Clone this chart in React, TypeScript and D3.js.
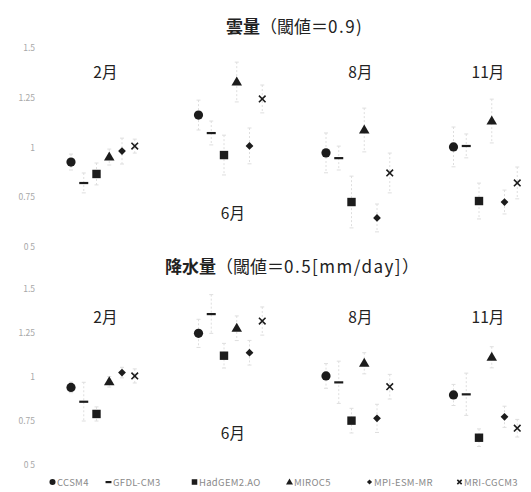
import React from "react";
import * as d3 from "d3";

const months = ["2月", "6月", "8月", "11月"];
const models = ["CCSM4", "GFDL-CM3", "HadGEM2.AO", "MIROC5", "MPI-ESM-MR", "MRI-CGCM3"];
const symbols = ["circle", "dash", "square", "triangle", "diamond", "cross"];
const yTicks = [0.5, 0.75, 1, 1.25, 1.5];
const yTickLabels = ["0 5", "0.75", "1", "1.25", "1.5"];

// 雲量 ratios per model (2月, 6月, 8月, 11月)
const cloudCCSM4 = [0.927, 1.163, 0.973, 1.003];
const cloudGFDL = [0.822, 1.073, 0.947, 1.008];
const cloudHadGEM = [0.867, 0.962, 0.726, 0.731];
const cloudMIROC = [0.952, 1.329, 1.088, 1.133];
const cloudMPI = [0.982, 1.008, 0.646, 0.726];
const cloudMRI = [1.007, 1.244, 0.872, 0.822];
const cloudErrCCSM4 = [0.04, 0.075, 0.1, 0.1];
const cloudErrGFDL = [0.05, 0.06, 0.06, 0.06];
const cloudErrHadGEM = [0.055, 0.1, 0.13, 0.09];
const cloudErrMIROC = [0.04, 0.1, 0.11, 0.11];
const cloudErrMPI = [0.065, 0.09, 0.07, 0.06];
const cloudErrMRI = [0.035, 0.07, 0.1, 0.08];

// 降水量 ratios per model
const precCCSM4 = [0.941, 1.248, 1.006, 0.898];
const precGFDL = [0.86, 1.358, 0.97, 0.902];
const precHadGEM = [0.79, 1.121, 0.752, 0.655];
const precMIROC = [0.973, 1.277, 1.078, 1.112];
const precMPI = [1.025, 1.138, 0.765, 0.774];
const precMRI = [1.006, 1.318, 0.945, 0.709];
const precErrCCSM4 = [0.03, 0.08, 0.07, 0.06];
const precErrGFDL = [0.11, 0.11, 0.12, 0.12];
const precErrHadGEM = [0.04, 0.07, 0.07, 0.05];
const precErrMIROC = [0.03, 0.07, 0.06, 0.06];
const precErrMPI = [0.03, 0.07, 0.08, 0.06];
const precErrMRI = [0.04, 0.08, 0.07, 0.05];

const cloudValues = [cloudCCSM4, cloudGFDL, cloudHadGEM, cloudMIROC, cloudMPI, cloudMRI];
const cloudErrors = [cloudErrCCSM4, cloudErrGFDL, cloudErrHadGEM, cloudErrMIROC, cloudErrMPI, cloudErrMRI];
const precValues = [precCCSM4, precGFDL, precHadGEM, precMIROC, precMPI, precMRI];
const precErrors = [precErrCCSM4, precErrGFDL, precErrHadGEM, precErrMIROC, precErrMPI, precErrMRI];

const INK = "#1c1c1c";
const FONT = "'Noto Sans CJK JP', 'Noto Sans', sans-serif";

const x = d3.scaleLinear().domain([0, 3]).range([71, 453.5]);

function Marker({ type, cx, cy, s = 1 }: { type: string; cx: number; cy: number; s?: number }) {
  switch (type) {
    case "circle":
      return <circle cx={cx} cy={cy} r={4.6 * s} fill={INK} />;
    case "dash":
      return <rect x={cx - 4.5 * s} y={cy - 1} width={9 * s} height={2.2} fill={INK} />;
    case "square":
      return <rect x={cx - 4.2 * s} y={cy - 4.2 * s} width={8.4 * s} height={8.4 * s} fill={INK} />;
    case "triangle": {
      const p = d3.symbol(d3.symbolTriangle, 48 * s * s)();
      return <path d={p || ""} transform={`translate(${cx},${cy + 0.5})`} fill={INK} />;
    }
    case "diamond": {
      const r = 3.9 * s;
      return <path d={`M${cx},${cy - r}L${cx + r},${cy}L${cx},${cy + r}L${cx - r},${cy}Z`} fill={INK} />;
    }
    default: {
      const r = 3.3 * s;
      return (
        <path
          d={`M${cx - r},${cy - r}L${cx + r},${cy + r}M${cx + r},${cy - r}L${cx - r},${cy + r}`}
          stroke={INK}
          strokeWidth={1.6}
        />
      );
    }
  }
}

function Panel({
  top,
  bottom,
  titleBold,
  titleMid,
  titleLatin,
  titleX,
  titleY,
  values,
  errors,
  labelHigh,
  labelLow,
}: {
  top: number;
  bottom: number;
  titleBold: string;
  titleMid: string;
  titleLatin: string;
  titleX: number;
  titleY: number;
  values: number[][];
  errors: number[][];
  labelHigh: number;
  labelLow: number;
}) {
  const y = d3.scaleLinear().domain([0.5, 1.5]).range([bottom, top]);
  return (
    <g>
      <text x={titleX} y={titleY} fontFamily={FONT} fontSize={17} fill="#222">
        <tspan fontWeight="bold">{titleBold}</tspan>
        <tspan>{titleMid}</tspan>
        <tspan letterSpacing={1.5}>{titleLatin}</tspan>
      </text>
      {yTicks.map((t, i) => (
        <text key={t} x={35} y={y(t) + 3} textAnchor="end" fontFamily={FONT} fontSize={8.5} fill="#a8a8a8">
          {yTickLabels[i]}
        </text>
      ))}
      {months.map((m, g) => (
        <text
          key={m}
          x={x(g + 0.27)}
          y={y(g === 1 ? labelLow : labelHigh) + 5.5}
          textAnchor="middle"
          fontFamily={FONT}
          fontSize={15.5}
          fill="#222"
        >
          {m}
        </text>
      ))}
      {values.map((series, j) =>
        series.map((v, g) => {
          const cx = x(g + j * 0.1);
          const e = errors[j][g];
          return (
            <g key={`e${j}-${g}`} stroke="#dedede" strokeWidth={1}>
              <line x1={cx} x2={cx} y1={y(v + e)} y2={y(v - e)} strokeDasharray="2,2" />
              <line x1={cx - 2} x2={cx + 2} y1={y(v + e)} y2={y(v + e)} />
              <line x1={cx - 2} x2={cx + 2} y1={y(v - e)} y2={y(v - e)} />
            </g>
          );
        })
      )}
      {values.map((series, j) =>
        series.map((v, g) => <Marker key={`m${j}-${g}`} type={symbols[j]} cx={x(g + j * 0.1)} cy={y(v)} />)
      )}
    </g>
  );
}

const legendX = [50, 106, 192, 287, 367, 457];

export default function App() {
  return (
    <svg width={531} height={492} style={{ position: "absolute", left: 0, top: 0 }}>
      <rect width={531} height={492} fill="#fff" />
      <Panel
        top={48}
        bottom={247}
        titleBold="雲量"
        titleMid="（閾値＝"
        titleLatin="0.9)"
        titleX={226}
        titleY={33}
        values={cloudValues}
        errors={cloudErrors}
        labelHigh={1.375}
        labelLow={0.67}
      />
      <Panel
        top={289}
        bottom={465}
        titleBold="降水量"
        titleMid="（閾値＝"
        titleLatin="0.5[mm/day]）"
        titleX={165}
        titleY={273}
        values={precValues}
        errors={precErrors}
        labelHigh={1.34}
        labelLow={0.68}
      />
      {models.map((m, j) => (
        <g key={m}>
          <Marker type={symbols[j]} cx={legendX[j] + 2.5} cy={482} s={0.66} />
          <text x={legendX[j] + 7} y={486} fontFamily={FONT} fontSize={9.5} fill="#8a8a8a" letterSpacing={0.3}>
            {m}
          </text>
        </g>
      ))}
    </svg>
  );
}
